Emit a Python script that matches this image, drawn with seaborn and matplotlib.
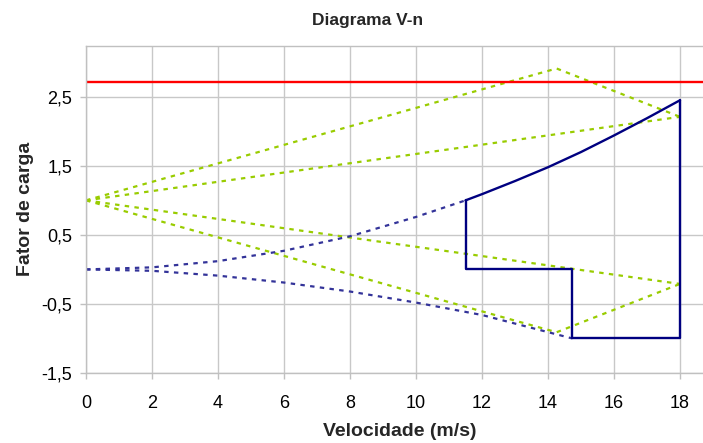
import matplotlib
matplotlib.use("Agg")
import matplotlib.pyplot as plt
import seaborn as sns
import pandas as pd
from matplotlib.ticker import FuncFormatter

# --- data ---
# gust lines (green dotted)
gust_up_peak_v = [0, 14.26, 18]
gust_up_peak_n = [1.0, 2.91, 2.21]
gust_up_v = [0, 18]
gust_up_n = [1.0, 2.21]
gust_lo_v = [0, 18]
gust_lo_n = [1.0, -0.21]
gust_lo_peak_v = [0, 14.26, 18]
gust_lo_peak_n = [1.0, -0.91, -0.21]

# stall curves (blue dotted)
stall_pos_v = [0, 2, 4, 6, 8, 10, 11.5]
stall_pos_n = [0.0, 0.03, 0.12, 0.27, 0.48, 0.76, 1.0]
stall_neg_v = [0, 2, 4, 6, 8, 10, 12, 14.74]
stall_neg_n = [0.0, -0.02, -0.09, -0.19, -0.32, -0.48, -0.66, -1.0]

# flight envelope (blue solid)
env_curve_v = [11.5, 12, 13, 14, 15, 16, 17, 18]
env_curve_n = [1.0, 1.09, 1.28, 1.48, 1.70, 1.94, 2.19, 2.45]
env_box_v = [11.5, 11.5, 14.74, 14.74, 18, 18]
env_box_n = [1.0, 0.0, 0.0, -1.0, -1.0, 2.45]

# limit load (red)
limit_v = [0, 19]
limit_n = [2.71, 2.71]

x_ticks = [0, 2, 4, 6, 8, 10, 12, 14, 16, 18]
y_ticks = [-1.5, -0.5, 0.5, 1.5, 2.5]

sns.set_theme(style="white")
plt.rcParams["font.family"] = ["Liberation Sans", "DejaVu Sans"]

fig = plt.figure(figsize=(7.03, 4.43), dpi=100)
# plot area extends beyond the right edge of the image (as in the reference crop)
ax = fig.add_axes([86 / 703, 70 / 443, 627 / 703, 327.3 / 443])

green = "#99CC00"
navy = "#000080"
dot_kw = dict(linestyle=(0, (2.0, 2.4)), linewidth=1.6)

def draw(v, n, color, **kw):
    df = pd.DataFrame({"V": v, "n": n})
    sns.lineplot(data=df, x="V", y="n", ax=ax, color=color, sort=False,
                 estimator=None, **kw)

draw(gust_up_peak_v, gust_up_peak_n, green, **dot_kw)
draw(gust_up_v, gust_up_n, green, **dot_kw)
draw(gust_lo_v, gust_lo_n, green, **dot_kw)
draw(gust_lo_peak_v, gust_lo_peak_n, green, **dot_kw)
draw(stall_pos_v, stall_pos_n, "#333399", **dot_kw)
draw(stall_neg_v, stall_neg_n, "#333399", **dot_kw)
draw(env_curve_v, env_curve_n, navy, linewidth=1.7)
draw(env_box_v, env_box_n, navy, linewidth=1.7)
draw(limit_v, limit_n, "#FF0000", linewidth=1.7)

ax.set_xlim(0, 19)
ax.set_ylim(-1.5, 3.24)
ax.set_xticks(x_ticks)
ax.set_yticks(y_ticks)
ax.yaxis.set_major_formatter(FuncFormatter(lambda v, p: f"{v:.1f}".replace(".", ",")))
ax.xaxis.set_major_formatter(FuncFormatter(lambda v, p: f"{int(v)}"))
ax.grid(True, color="#C8C8C8", linewidth=1.0)
for s in ax.spines.values():
    s.set_color("#C0C0C0")
    s.set_linewidth(1.0)
ax.tick_params(axis="both", which="both", direction="out", length=4, width=1,
               color="#C0C0C0", labelsize=13, labelcolor="black")
ax.tick_params(axis="x", pad=12)
ax.tick_params(axis="y", pad=6)
ax.tick_params(axis="both", bottom=True, left=True)

ax.set_xlabel("Velocidade (m/s)", fontsize=14, fontweight="bold", labelpad=8)
ax.set_ylabel("Fator de carga", fontsize=14, fontweight="bold", labelpad=5)
fig.text(368 / 703, 1 - 20 / 443, "Diagrama V-n", ha="center", va="center",
         fontsize=12.5, fontweight="bold")

fig.savefig("out.png", dpi=100)
